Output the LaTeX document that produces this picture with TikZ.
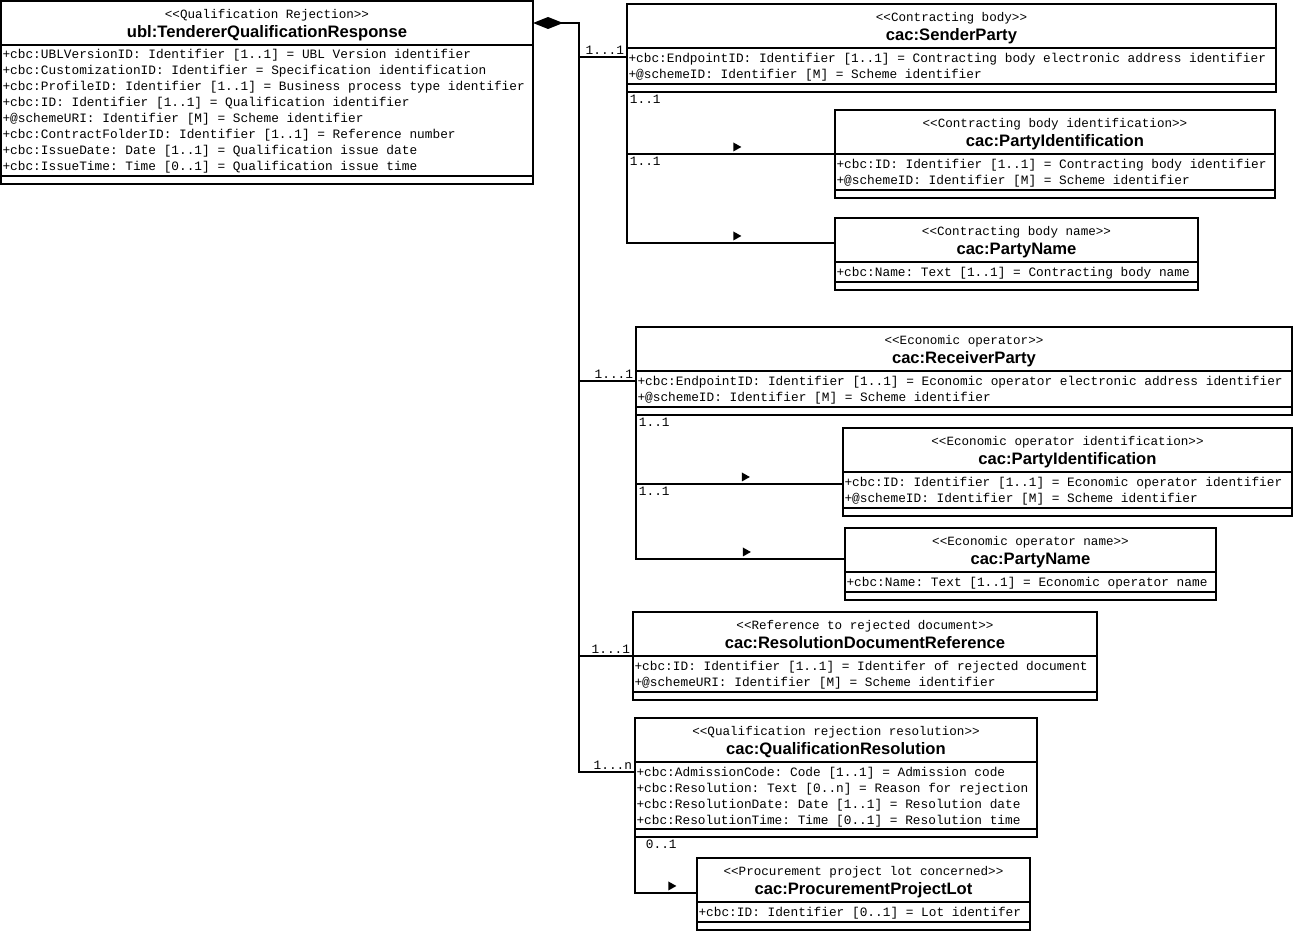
\documentclass[tikz,border=0pt]{standalone}
\usepackage{fontspec}
\newfontfamily\umlmono[Ligatures=TeXOff]{Liberation Mono}
\newfontfamily\umlsans{Liberation Sans}
\usetikzlibrary{arrows.meta,shapes.geometric}
\newcommand{\monospaces}{\spaceskip=0.6em\xspaceskip=0.6em\relax}
\newcommand{\stereo}[1]{\rule{0pt}{13.5pt}#1}
\newcommand{\classname}[1]{{\umlsans\bfseries\fontsize{16.6}{19}\selectfont #1\rule[-4pt]{0pt}{0pt}}}
\newcommand{\attrtop}{\rule{0pt}{12.5pt}}
\newcommand{\attrbot}{\rule[-3.5pt]{0pt}{3.5pt}}
\tikzstyle{classhead}=[draw,line width=1.8pt,anchor=north west,outer sep=0pt,inner sep=0pt,minimum height=44pt,align=center,font=\umlmono\fontsize{12.6}{19}\selectfont]
\tikzstyle{classattr}=[draw,line width=1.8pt,anchor=north west,outer sep=0pt,inner xsep=1.5pt,inner ysep=0pt,font=\umlmono\fontsize{12.8}{16}\selectfont,execute at begin node={\monospaces\attrtop},execute at end node=\attrbot]
\tikzstyle{classops}=[draw,line width=1.8pt,anchor=north west,outer sep=0pt,inner sep=0pt,minimum height=8pt]
\tikzstyle{assoc}=[line width=1.8pt]
\tikzstyle{composition}=[line width=1.8pt,{Diamond[length=30pt,width=12pt]}-]
\tikzstyle{mult}=[font=\umlmono\fontsize{12.8}{14}\selectfont,inner sep=2pt]
\tikzstyle{navtip}=[isosceles triangle,isosceles triangle stretches,fill=black,inner sep=0pt,outer sep=0pt,minimum width=9pt,minimum height=8pt,xshift=5pt]

\begin{document}
\begin{tikzpicture}[x=1pt,y=-1pt]
\useasboundingbox (0,0) rectangle (1294,931);

% main document
\node[classhead,minimum width=532pt] (C1) at (1,1) {\stereo{<<Qualification Rejection>>}\\\classname{ubl:TendererQualificationResponse}};
\node[classattr,minimum width=532pt,text width=529pt,minimum height=131pt] (C1ATTR) at (C1.south west) {+cbc:UBLVersionID: Identifier [1..1] = UBL Version identifier\\+cbc:CustomizationID: Identifier = Specification identification\\+cbc:ProfileID: Identifier [1..1] = Business process type identifier\\+cbc:ID: Identifier [1..1] = Qualification identifier\\+@schemeURI: Identifier [M] = Scheme identifier\\+cbc:ContractFolderID: Identifier [1..1] = Reference number\\+cbc:IssueDate: Date [1..1] = Qualification issue date\\+cbc:IssueTime: Time [0..1] = Qualification issue time};
\node[classops,minimum width=532pt] (C1OPS) at (C1ATTR.south west) {};

% contracting body
\node[classhead,minimum width=649pt] (C2) at (627,4) {\stereo{<<Contracting body>>}\\\classname{cac:SenderParty}};
\node[classattr,minimum width=649pt,text width=646pt,minimum height=36pt] (C2ATTR) at (C2.south west) {+cbc:EndpointID: Identifier [1..1] = Contracting body electronic address identifier\\+@schemeID: Identifier [M] = Scheme identifier};
\node[classops,minimum width=649pt] (C2OPS) at (C2ATTR.south west) {};

\node[classhead,minimum width=440pt] (C3) at (835,110) {\stereo{<<Contracting body identification>>}\\\classname{cac:PartyIdentification}};
\node[classattr,minimum width=440pt,text width=437pt,minimum height=36pt] (C3ATTR) at (C3.south west) {+cbc:ID: Identifier [1..1] = Contracting body identifier\\+@schemeID: Identifier [M] = Scheme identifier};
\node[classops,minimum width=440pt] (C3OPS) at (C3ATTR.south west) {};

\node[classhead,minimum width=363pt] (C4) at (835,218) {\stereo{<<Contracting body name>>}\\\classname{cac:PartyName}};
\node[classattr,minimum width=363pt,text width=360pt,minimum height=20pt] (C4ATTR) at (C4.south west) {+cbc:Name: Text [1..1] = Contracting body name};
\node[classops,minimum width=363pt] (C4OPS) at (C4ATTR.south west) {};

% economic operator
\node[classhead,minimum width=656pt] (C5) at (636,327) {\stereo{<<Economic operator>>}\\\classname{cac:ReceiverParty}};
\node[classattr,minimum width=656pt,text width=653pt,minimum height=36pt] (C5ATTR) at (C5.south west) {+cbc:EndpointID: Identifier [1..1] = Economic operator electronic address identifier\\+@schemeID: Identifier [M] = Scheme identifier};
\node[classops,minimum width=656pt] (C5OPS) at (C5ATTR.south west) {};

\node[classhead,minimum width=449pt] (C6) at (843,428) {\stereo{<<Economic operator identification>>}\\\classname{cac:PartyIdentification}};
\node[classattr,minimum width=449pt,text width=446pt,minimum height=36pt] (C6ATTR) at (C6.south west) {+cbc:ID: Identifier [1..1] = Economic operator identifier\\+@schemeID: Identifier [M] = Scheme identifier};
\node[classops,minimum width=449pt] (C6OPS) at (C6ATTR.south west) {};

\node[classhead,minimum width=371pt] (C7) at (845,528) {\stereo{<<Economic operator name>>}\\\classname{cac:PartyName}};
\node[classattr,minimum width=371pt,text width=368pt,minimum height=20pt] (C7ATTR) at (C7.south west) {+cbc:Name: Text [1..1] = Economic operator name};
\node[classops,minimum width=371pt] (C7OPS) at (C7ATTR.south west) {};

% rejected document and resolution
\node[classhead,minimum width=464pt] (C8) at (633,612) {\stereo{<<Reference to rejected document>>}\\\classname{cac:ResolutionDocumentReference}};
\node[classattr,minimum width=464pt,text width=461pt,minimum height=36pt] (C8ATTR) at (C8.south west) {+cbc:ID: Identifier [1..1] = Identifer of rejected document\\+@schemeURI: Identifier [M] = Scheme identifier};
\node[classops,minimum width=464pt] (C8OPS) at (C8ATTR.south west) {};

\node[classhead,minimum width=402pt] (C9) at (635,718) {\stereo{<<Qualification rejection resolution>>}\\\classname{cac:QualificationResolution}};
\node[classattr,minimum width=402pt,text width=399pt,minimum height=67pt] (C9ATTR) at (C9.south west) {+cbc:AdmissionCode: Code [1..1] = Admission code\\+cbc:Resolution: Text [0..n] = Reason for rejection\\+cbc:ResolutionDate: Date [1..1] = Resolution date\\+cbc:ResolutionTime: Time [0..1] = Resolution time};
\node[classops,minimum width=402pt] (C9OPS) at (C9ATTR.south west) {};

\node[classhead,minimum width=333pt] (C10) at (697,858) {\stereo{<<Procurement project lot concerned>>}\\\classname{cac:ProcurementProjectLot}};
\node[classattr,minimum width=333pt,text width=330pt,minimum height=20pt] (C10ATTR) at (C10.south west) {+cbc:ID: Identifier [0..1] = Lot identifer};
\node[classops,minimum width=333pt] (C10OPS) at (C10ATTR.south west) {};

\coordinate (TRUNK) at (579,23);
\coordinate (C2IN) at ([yshift=-9pt]C2.south west);
\coordinate (C5IN) at ([yshift=-10pt]C5.south west);
\coordinate (C8IN) at (C8.south west);
\coordinate (C9IN) at ([yshift=-10pt]C9.south west);
\coordinate (C4IN) at ([yshift=-3pt]C4.west);
\coordinate (C6IN) at ([yshift=-12pt]C6.south west);
\coordinate (C7IN) at ([yshift=-9pt]C7.west);
\coordinate (C10IN) at ([yshift=9pt]C10.south west);

\draw[composition] (C1.east) -- (TRUNK) |- (C9IN) node[mult,above left]{1...n};
\draw[assoc] (TRUNK |- C2IN) -- (C2IN) node[mult,above left]{1...1};
\draw[assoc] (TRUNK |- C5IN) -- (C5IN) node[mult,above left]{1...1};
\draw[assoc] (TRUNK |- C8IN) -- (C8IN) node[mult,above left]{1...1};

\draw[assoc] (C2OPS.south west) node[mult,below right]{1..1} |- (C3.south west) node[navtip,pos=0.75,above=4pt]{};
\draw[assoc] (C2OPS.south west |- C3.south west) node[mult,below right]{1..1} |- (C4IN) node[navtip,pos=0.75,above=4pt]{};
\draw[assoc] (C5OPS.south west) node[mult,below right]{1..1} |- (C6IN) node[navtip,pos=0.75,above=4pt]{};
\draw[assoc] (C5OPS.south west |- C6IN) node[mult,below right]{1..1} |- (C7IN) node[navtip,pos=0.75,above=4pt]{};
\draw[assoc] (C9OPS.south west) node[mult,below right,xshift=8pt]{0..1} |- (C10IN) node[navtip,pos=0.75,above=4pt]{};

\end{tikzpicture}
\end{document}
